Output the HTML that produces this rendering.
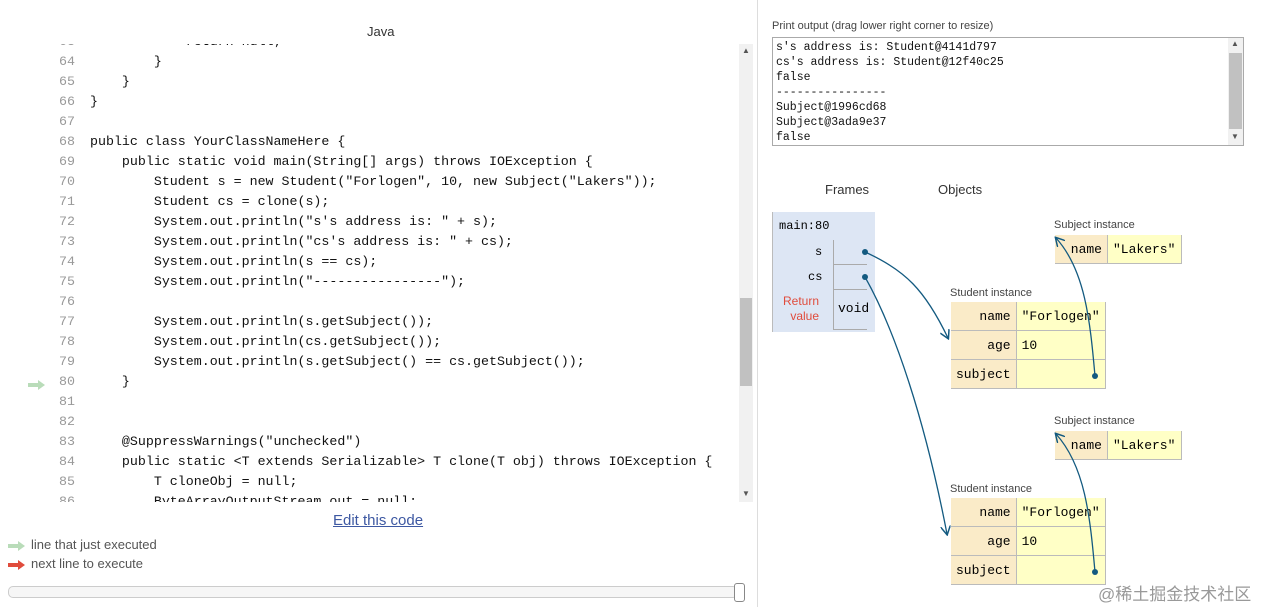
<!DOCTYPE html>
<html><head><meta charset="utf-8"><style>
body{margin:0;width:1264px;height:607px;background:#fff;position:relative;overflow:hidden;font-family:"Liberation Sans","Noto Sans CJK SC",sans-serif}
.a{position:absolute}
.code{font-family:"Liberation Mono",monospace;font-size:13.3px;color:#111;white-space:pre;line-height:20px}
.ln{color:#999;text-align:right;width:75px}
.mono{font-family:"Liberation Mono",monospace}
table{border-collapse:collapse;position:absolute}
td{height:28px;font-family:"Liberation Mono",monospace;font-size:13px;padding:0 5px;border-bottom:1px solid #bbb;border-right:1px solid #bbb}
td.k{background:#faebc8;text-align:right}
td.v{background:#ffffc6}
.lab{font-size:11px;color:#444}
.clip{position:absolute;top:44px;height:458px;overflow:hidden}
</style></head><body>
<div class="a" style="left:367px;top:24px;font-size:13px;color:#333">Java</div>
<div class="clip" style="left:0;width:80px"><div class="a code ln" style="left:0;top:-12px">63
64
65
66
67
68
69
70
71
72
73
74
75
76
77
78
79
80
81
82
83
84
85
86</div></div>
<div class="clip" style="left:90px;width:645px"><div class="a code" style="left:0;top:-12px">            return null;
        }
    }
}

public class YourClassNameHere {
    public static void main(String[] args) throws IOException {
        Student s = new Student("Forlogen", 10, new Subject("Lakers"));
        Student cs = clone(s);
        System.out.println("s's address is: " + s);
        System.out.println("cs's address is: " + cs);
        System.out.println(s == cs);
        System.out.println("----------------");

        System.out.println(s.getSubject());
        System.out.println(cs.getSubject());
        System.out.println(s.getSubject() == cs.getSubject());
    }


    @SuppressWarnings("unchecked")
    public static &lt;T extends Serializable&gt; T clone(T obj) throws IOException {
        T cloneObj = null;
        ByteArrayOutputStream out = null;</div></div>
<div class="a" style="left:28px;top:377px;width:18px;height:8px"><svg width="18" height="10"><path d="M0 3h10V0l7 5-7 5V7H0z" fill="#b9dcb9"/></svg></div>
<div class="a" style="left:739px;top:44px;width:14px;height:458px;background:#f1f1f1"></div>
<div class="a" style="left:740px;top:298px;width:12px;height:88px;background:#c1c1c1"></div>
<div class="a" style="left:742px;top:46px;font-size:8px;color:#555">▲</div>
<div class="a" style="left:742px;top:489px;font-size:8px;color:#555">▼</div>
<div class="a" style="left:333px;top:512px;font-size:15px;color:#3d58a2;text-decoration:underline">Edit this code</div>
<div class="a" style="left:8px;top:538px"><svg width="18" height="10"><path d="M0 3h10V0l7 5-7 5V7H0z" fill="#b9dcb9"/></svg></div>
<div class="a" style="left:31px;top:537px;font-size:13px;color:#555">line that just executed</div>
<div class="a" style="left:8px;top:557px"><svg width="18" height="10"><path d="M0 3h10V0l7 5-7 5V7H0z" fill="#e04c3c"/></svg></div>
<div class="a" style="left:31px;top:556px;font-size:13px;color:#555">next line to execute</div>
<div class="a" style="left:8px;top:586px;width:728px;height:10px;border:1px solid #ccc;border-radius:5px;background:#f6f6f6"></div>
<div class="a" style="left:734px;top:583px;width:9px;height:17px;border:1px solid #888;border-radius:3px;background:#fff"></div>
<div class="a" style="left:757px;top:0;width:1px;height:607px;background:#ddd"></div>

<div class="a" style="left:772px;top:20px;font-size:11px;color:#444">Print output (drag lower right corner to resize)</div>
<div class="a mono" style="left:772px;top:37px;width:472px;height:109px;border:1px solid #aaa;font-size:11.5px;line-height:15px;padding:2px 3px;box-sizing:border-box;white-space:pre;color:#111">s's address is: Student@4141d797
cs's address is: Student@12f40c25
false
----------------
Subject@1996cd68
Subject@3ada9e37
false</div>
<div class="a" style="left:1228px;top:38px;width:15px;height:107px;background:#f1f1f1"></div>
<div class="a" style="left:1229px;top:53px;width:13px;height:76px;background:#c1c1c1"></div>
<div class="a" style="left:1231px;top:39px;font-size:8px;color:#555">▲</div>
<div class="a" style="left:1231px;top:132px;font-size:8px;color:#555">▼</div>

<div class="a" style="left:825px;top:182px;font-size:13px;color:#333">Frames</div>
<div class="a" style="left:938px;top:182px;font-size:13px;color:#333">Objects</div>
<div class="a" style="left:772px;top:212px;width:102px;height:120px;background:#dde6f4;border-left:1px solid #bbb"></div>
<div class="a mono" style="left:779px;top:219px;font-size:12px">main:80</div>
<div class="a mono" style="left:815px;top:245px;font-size:12px">s</div>
<div class="a mono" style="left:808px;top:270px;font-size:12px">cs</div>
<div class="a" style="left:783px;top:294px;font-size:12px;color:#e04c3c;text-align:right;line-height:15px">Return<br>&nbsp;value</div>
<div class="a" style="left:833px;top:240px;width:33px;height:24px;border-left:1px solid #aaa;border-bottom:1px solid #aaa"></div>
<div class="a" style="left:833px;top:265px;width:33px;height:24px;border-left:1px solid #aaa;border-bottom:1px solid #aaa"></div>
<div class="a" style="left:833px;top:290px;width:33px;height:39px;border-left:1px solid #aaa;border-bottom:1px solid #aaa"></div>
<div class="a mono" style="left:838px;top:301px;font-size:13px">void</div>

<div class="a lab" style="left:1054px;top:219px">Subject instance</div>
<table style="left:1055px;top:235px"><tr><td class="k" style="width:42px">name</td><td class="v" style="width:63px">"Lakers"</td></tr></table>
<div class="a lab" style="left:950px;top:287px">Student instance</div>
<table style="left:951px;top:302px"><tr><td class="k" style="width:53px">name</td><td class="v" style="width:78px">"Forlogen"</td></tr><tr><td class="k">age</td><td class="v">10</td></tr><tr><td class="k">subject</td><td class="v"></td></tr></table>
<div class="a lab" style="left:1054px;top:415px">Subject instance</div>
<table style="left:1055px;top:431px"><tr><td class="k" style="width:42px">name</td><td class="v" style="width:63px">"Lakers"</td></tr></table>
<div class="a lab" style="left:950px;top:483px">Student instance</div>
<table style="left:951px;top:498px"><tr><td class="k" style="width:53px">name</td><td class="v" style="width:78px">"Forlogen"</td></tr><tr><td class="k">age</td><td class="v">10</td></tr><tr><td class="k">subject</td><td class="v"></td></tr></table>

<svg class="a" style="left:0;top:0" width="1264" height="607">
<defs><marker id="m" markerWidth="10" markerHeight="10" refX="8" refY="5" orient="auto" markerUnits="userSpaceOnUse"><path d="M0 0L9 5L0 10" fill="none" stroke="#135a80" stroke-width="1.5"/></marker></defs>
<g stroke="#135a80" stroke-width="1.3" fill="none">
<path d="M865 252C905 270 925 290 948 338" marker-end="url(#m)"/>
<path d="M865 277C895 330 925 420 947 534" marker-end="url(#m)"/>
<path d="M1095 376C1090 320 1085 270 1056 238" marker-end="url(#m)"/>
<path d="M1095 572C1090 516 1085 466 1056 434" marker-end="url(#m)"/>
</g>
<g fill="#135a80"><circle cx="865" cy="252" r="3"/><circle cx="865" cy="277" r="3"/><circle cx="1095" cy="376" r="3"/><circle cx="1095" cy="572" r="3"/></g>
</svg>
<div class="a" style="left:1098px;top:580px;font-size:17px;color:#999">@稀土掘金技术社区</div>
</body></html>
